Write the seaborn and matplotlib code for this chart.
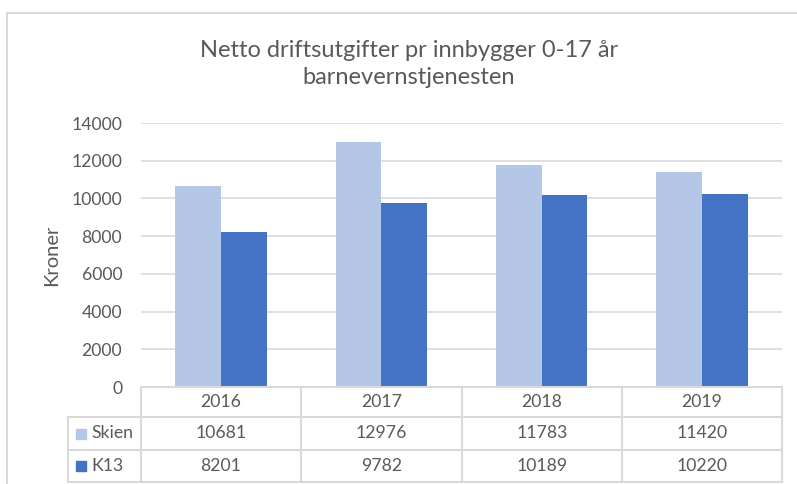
import matplotlib
matplotlib.use("Agg")
import matplotlib.pyplot as plt
import pandas as pd
import seaborn as sns

# ---- data ----
years = ["2016", "2017", "2018", "2019"]
series_names = ["Skien", "K13"]
skien = [10681, 12976, 11783, 11420]
k13 = [8201, 9782, 10189, 10220]
yticks = [0, 2000, 4000, 6000, 8000, 10000, 12000, 14000]
title = "Netto driftsutgifter pr innbygger 0-17 år\nbarnevernstjenesten"
ylabel = "Kroner"

colors = ["#B4C7E7", "#4472C4"]
text_col = "#595959"
grid_col = "#D9D9D9"

df = pd.DataFrame({
    "År": years * 2,
    "Serie": [series_names[0]] * len(years) + [series_names[1]] * len(years),
    "Kroner": skien + k13,
})

sns.set_theme(style="white")
plt.rcParams['font.family'] = ['Lato', 'DejaVu Sans']

W, H = 797, 484
fig = plt.figure(figsize=(W / 100, H / 100), dpi=100)
fig.patch.set_facecolor("white")

def fx(x):
    return x / W

def fy(y):
    return 1 - y / H

L, R, T, B = 141, 782, 123, 387
ax = fig.add_axes([fx(L), fy(B), fx(R) - fx(L), fy(T) - fy(B)])
sns.barplot(data=df, x="År", y="Kroner", hue="Serie", order=years,
            hue_order=series_names, palette=colors, width=0.57, gap=0,
            saturation=1, legend=False, ax=ax, zorder=3, linewidth=0)
ax.set_xlim(-0.5, len(years) - 0.5)
ax.set_ylim(yticks[0], yticks[-1])
ax.set_yticks(yticks)
ax.set_yticklabels([str(v) for v in yticks])
ax.grid(axis='y', color=grid_col, lw=1.2)
ax.grid(axis='x', visible=False)
ax.set_axisbelow(True)
for s in ax.spines.values():
    s.set_visible(False)
ax.tick_params(axis='y', length=0, pad=13.5, labelsize=12.7, labelcolor=text_col)
ax.set_xticks([])
ax.set_xlabel("")
ax.set_ylabel("")
ax.patch.set_alpha(0)

# overlay in pixel coordinates for frame, title and data table
ov = fig.add_axes([0, 0, 1, 1], zorder=5)
ov.set_xlim(0, W)
ov.set_ylim(H, 0)
ov.axis("off")

# outer chart frame
ov.plot([7, W], [13, 13], color=grid_col, lw=1.5)
ov.plot([7, 7], [13, H], color=grid_col, lw=1.5)

ov.text(409, 64, title, ha="center", va="center", fontsize=17,
        color=text_col, linespacing=1.38)
ov.text(52, 255, ylabel, ha="center", va="center", rotation=90,
        fontsize=14.5, color=text_col)

# table
col_edges = [141, 301, 462, 622, 782]
row_edges = [387, 417, 450, 482]
lab_left = 68
tl = dict(color=grid_col, lw=1.5, solid_capstyle="projecting")
ov.plot([col_edges[0], col_edges[-1]], [row_edges[0]] * 2, **tl)
for y in row_edges[1:]:
    ov.plot([lab_left, col_edges[-1]], [y, y], **tl)
for x in col_edges:
    ov.plot([x, x], [row_edges[0], row_edges[-1]], **tl)
ov.plot([lab_left, lab_left], [row_edges[1], row_edges[-1]], **tl)

fs = 12.7
for i, yr in enumerate(years):
    cx = (col_edges[i] + col_edges[i + 1]) / 2
    ov.text(cx, (row_edges[0] + row_edges[1]) / 2, yr, ha="center",
            va="center", fontsize=fs, color=text_col)
    for r, vals in enumerate([skien, k13]):
        cy = (row_edges[r + 1] + row_edges[r + 2]) / 2
        ov.text(cx, cy, str(vals[i]), ha="center", va="center",
                fontsize=fs, color=text_col)

for r, name in enumerate(series_names):
    cy = (row_edges[r + 1] + row_edges[r + 2]) / 2
    ov.add_patch(plt.Rectangle((76, cy - 5), 10, 10, color=colors[r]))
    ov.text(91, cy, name, ha="left", va="center", fontsize=fs, color=text_col)

fig.savefig("out.png", dpi=100)
